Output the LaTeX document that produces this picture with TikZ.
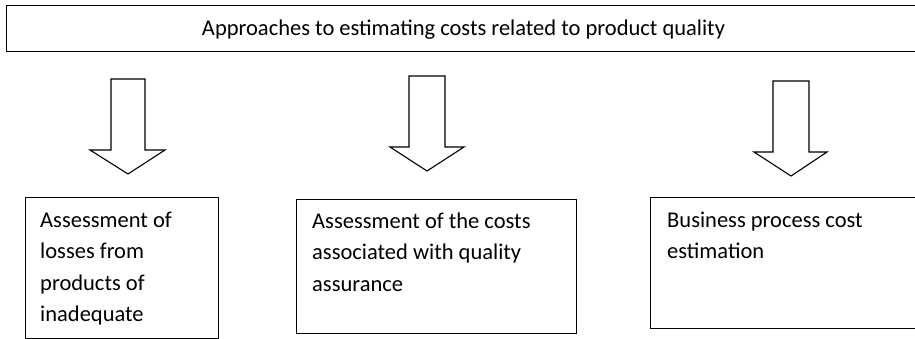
\documentclass[tikz,border=0pt]{standalone}
\usepackage{fontspec}
\setmainfont{Carlito}
\begin{document}
\begin{tikzpicture}[x=1pt,y=-1pt,
  boxshape/.style={draw=black,line width=1.1pt,fill=white,inner sep=0pt,anchor=north west},
  boxtext/.style={inner sep=0pt,anchor=north west,align=left,font=\fontsize{22.5}{31.5}\selectfont},
  blockarrow/.style={draw=black,line width=1.1pt,fill=white,line join=miter}]
\useasboundingbox (0,0) rectangle (915,339);
% top box
\node[boxshape,minimum width=920pt,minimum height=46pt] (top) at (6,5) {};
\node[inner sep=0pt,anchor=base,font=\fontsize{22.5}{27}\selectfont] (toptext) at (463.5,36) {Approaches to estimating costs related to product quality};
% arrows
\draw[blockarrow] (111,79) -- (145,79) -- (145,150) -- (165,150) -- (128,174) -- (90,150) -- (111,150) -- cycle;
\draw[blockarrow] (409,76) -- (445,76) -- (445,147) -- (464,147) -- (427,171) -- (390,147) -- (409,147) -- cycle;
\draw[blockarrow] (773,81) -- (809,81) -- (809,152) -- (827,152) -- (791,176) -- (754,152) -- (773,152) -- cycle;
% lower boxes
\node[boxshape,minimum width=193.5pt,minimum height=141pt] (b1) at (24.5,197) {};
\node[boxshape,minimum width=280pt,minimum height=134pt] (b2) at (296,199) {};
\node[boxshape,minimum width=280pt,minimum height=131pt] (b3) at (650,197) {};
\node[boxtext] (t1) at ([xshift=15.5pt,yshift=-10pt]b1.north west) {\rule{0pt}{20pt}Assessment of\\losses from\\products of\\inadequate};
\node[boxtext] (t2) at ([xshift=16pt,yshift=-9pt]b2.north west) {\rule{0pt}{20pt}Assessment of the costs\\associated with quality\\assurance};
\node[boxtext] (t3) at ([xshift=17pt,yshift=-10pt]b3.north west) {\rule{0pt}{20pt}Business process cost\\estimation};
\end{tikzpicture}
\end{document}
